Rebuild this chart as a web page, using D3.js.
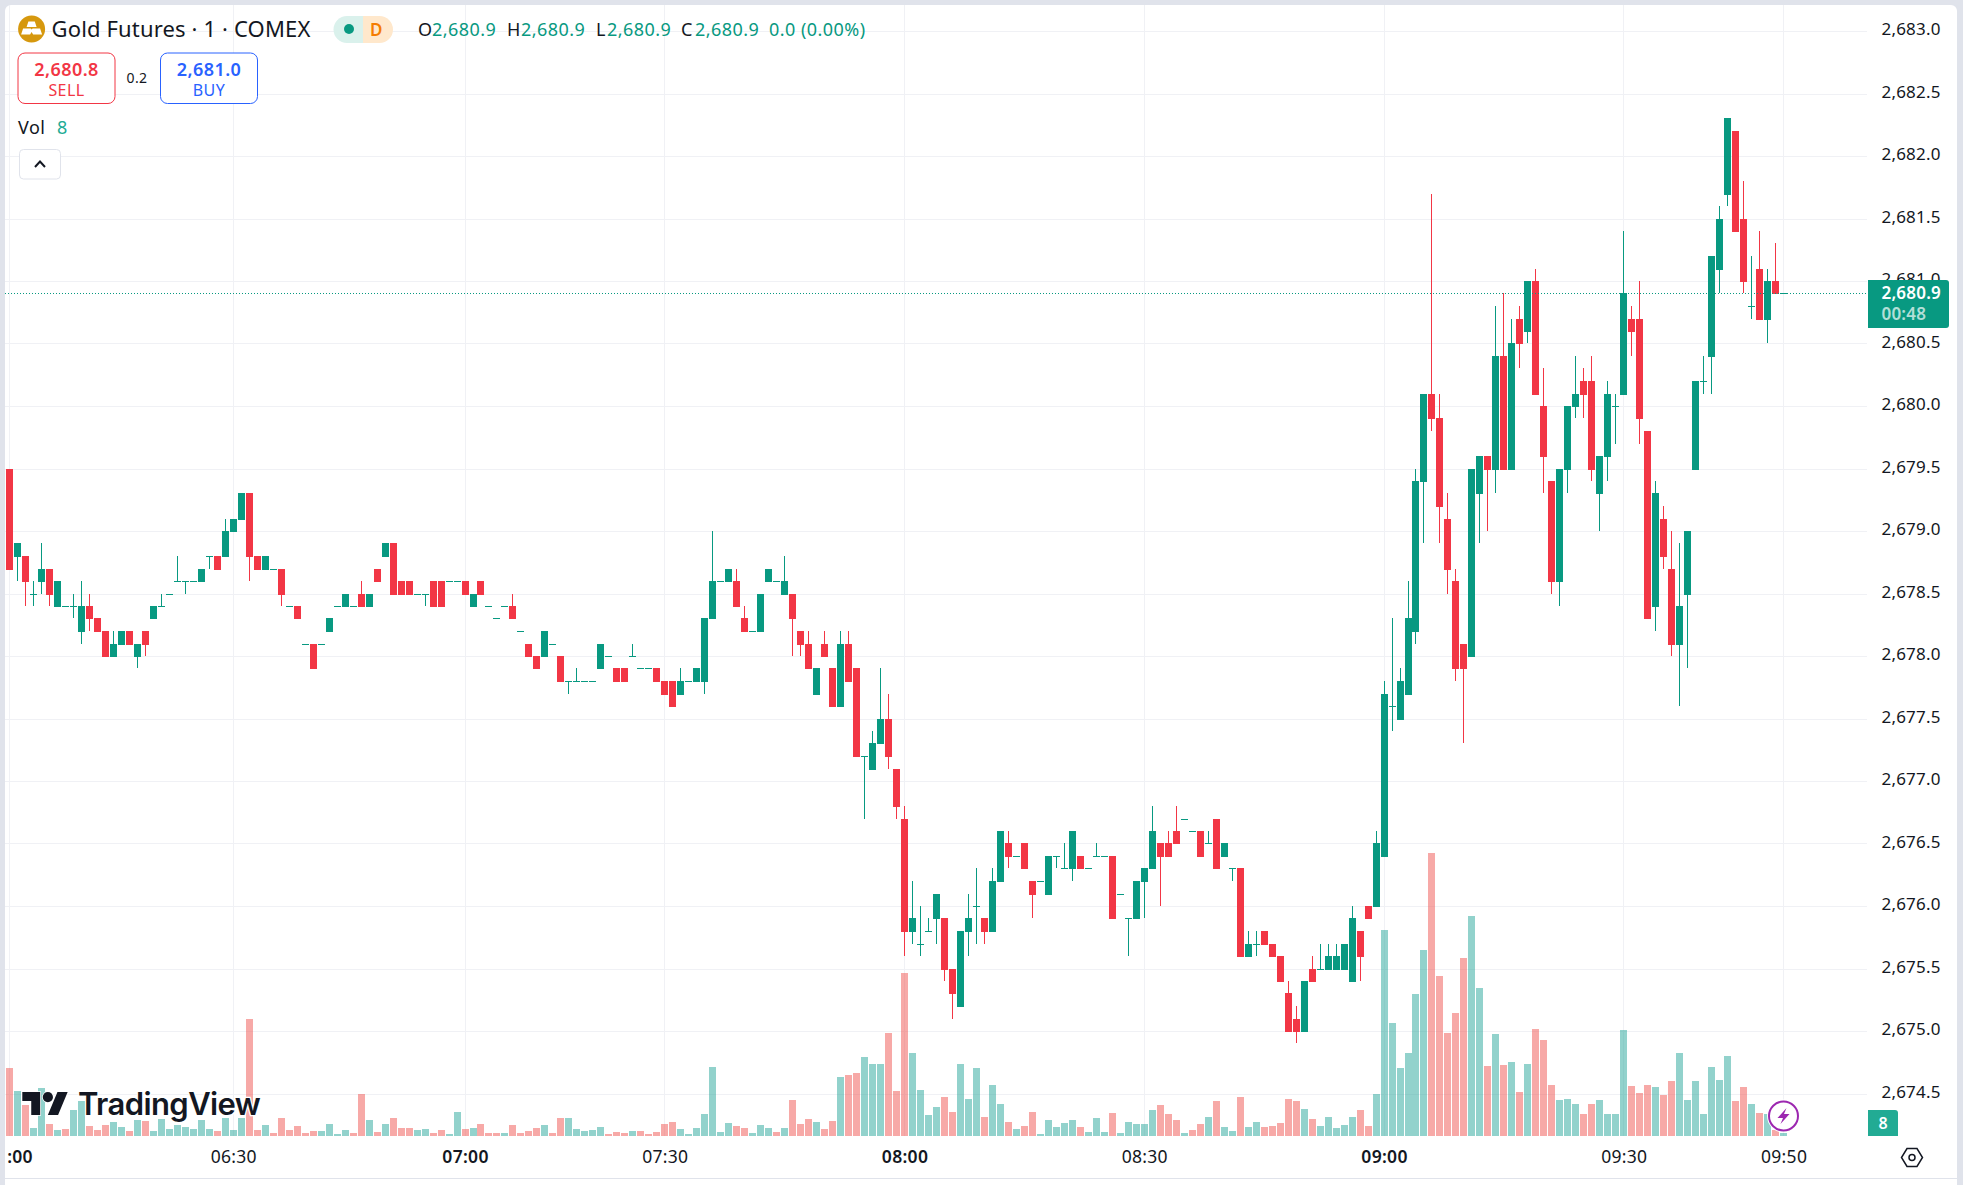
<!DOCTYPE html>
<html>
<head>
<meta charset="utf-8">
<script src="https://cdn.jsdelivr.net/npm/d3@7"></script>
<style>
    html, body { margin: 0; padding: 0; background: #e0e3eb; overflow: hidden; }
    svg { display: block; }
    text { font-family: "Noto Sans", sans-serif; fill: #131722; }
</style>
</head>
<body>
<svg id="chart" width="1963" height="1185"></svg>
<script>
// candles, one entry per bar (tick size 0.1)
var opens = [
    2679.5,2678.8,2678.8,2678.5,2678.6,2678.7,2678.4,2678.4,2678.4,2678.2,
    2678.4,2678.3,2678.2,2678.0,2678.1,2678.2,2678.0,2678.2,2678.3,2678.4,
    2678.5,2678.6,2678.6,2678.6,2678.6,2678.8,2678.8,2678.8,2679.0,2679.1,
    2679.3,2678.8,2678.7,2678.7,2678.7,2678.4,2678.4,2678.1,2678.1,2678.1,
    2678.2,2678.4,2678.4,2678.4,2678.5,2678.4,2678.7,2678.8,2678.9,2678.6,
    2678.6,2678.5,2678.5,2678.6,2678.6,2678.6,2678.6,2678.6,2678.4,2678.6,
    2678.4,2678.3,2678.4,2678.4,2678.2,2678.1,2678.0,2678.0,2678.1,2678.0,
    2677.8,2677.8,2677.8,2677.8,2677.9,2678.0,2677.9,2677.9,2678.0,2677.9,
    2677.9,2677.9,2677.8,2677.8,2677.7,2677.8,2677.8,2677.8,2678.3,2678.6,
    2678.6,2678.6,2678.3,2678.2,2678.2,2678.6,2678.6,2678.5,2678.5,2678.2,
    2678.1,2677.7,2678.1,2677.9,2677.6,2678.1,2677.9,2677.2,2677.1,2677.3,
    2677.5,2677.1,2676.7,2675.8,2675.7,2675.8,2675.9,2675.9,2675.5,2675.2,
    2675.8,2676.0,2675.9,2675.8,2676.2,2676.5,2676.4,2676.5,2676.2,2676.2,
    2676.1,2676.4,2676.3,2676.3,2676.4,2676.3,2676.4,2676.4,2676.4,2676.1,
    2675.9,2675.9,2676.2,2676.3,2676.5,2676.5,2676.6,2676.7,2676.6,2676.6,
    2676.5,2676.7,2676.4,2676.3,2676.3,2675.6,2675.7,2675.8,2675.7,2675.6,
    2675.3,2675.1,2675.0,2675.5,2675.5,2675.5,2675.5,2675.5,2675.4,2675.8,
    2676.0,2676.0,2676.4,2677.6,2677.5,2677.7,2678.2,2679.4,2680.1,2679.9,
    2679.1,2678.6,2678.1,2678.0,2679.3,2679.6,2679.5,2680.4,2679.5,2680.7,
    2680.6,2681.0,2680.0,2679.4,2678.6,2679.5,2680.0,2680.2,2680.2,2679.3,
    2679.6,2680.0,2680.1,2680.7,2680.7,2679.8,2678.4,2679.1,2678.7,2678.1,
    2678.5,2679.5,2680.2,2680.4,2681.1,2681.7,2682.2,2681.5,2680.8,2681.1,
    2680.7,2681.0,2680.9
];
var highs = [
    2679.5,2678.9,2678.8,2678.6,2678.9,2678.7,2678.6,2678.4,2678.5,2678.6,
    2678.5,2678.3,2678.2,2678.2,2678.2,2678.2,2678.1,2678.2,2678.4,2678.5,
    2678.5,2678.8,2678.6,2678.6,2678.7,2678.8,2678.8,2679.1,2679.1,2679.3,
    2679.3,2678.8,2678.8,2678.7,2678.7,2678.4,2678.4,2678.1,2678.1,2678.1,
    2678.3,2678.4,2678.5,2678.4,2678.6,2678.5,2678.7,2678.9,2678.9,2678.6,
    2678.6,2678.5,2678.5,2678.6,2678.6,2678.6,2678.6,2678.6,2678.5,2678.6,
    2678.4,2678.3,2678.4,2678.5,2678.2,2678.1,2678.0,2678.2,2678.1,2678.0,
    2677.8,2677.9,2677.8,2677.8,2678.1,2678.0,2677.9,2677.9,2678.1,2677.9,
    2677.9,2677.9,2677.8,2677.8,2677.9,2677.8,2677.9,2678.3,2679.0,2678.6,
    2678.7,2678.7,2678.4,2678.2,2678.5,2678.7,2678.6,2678.8,2678.5,2678.2,
    2678.2,2677.9,2678.2,2677.9,2678.2,2678.2,2677.9,2677.2,2677.4,2677.9,
    2677.7,2677.1,2676.8,2676.2,2676.0,2675.9,2676.1,2675.9,2675.5,2675.8,
    2676.1,2676.3,2675.9,2676.3,2676.6,2676.6,2676.4,2676.5,2676.2,2676.2,
    2676.4,2676.4,2676.5,2676.6,2676.4,2676.3,2676.5,2676.4,2676.4,2676.1,
    2675.9,2676.2,2676.3,2676.8,2676.5,2676.6,2676.8,2676.7,2676.6,2676.6,
    2676.6,2676.7,2676.5,2676.3,2676.3,2675.8,2675.8,2675.8,2675.7,2675.6,
    2675.4,2675.2,2675.4,2675.6,2675.7,2675.7,2675.7,2675.7,2676.0,2675.8,
    2676.0,2676.6,2677.8,2678.3,2677.9,2678.6,2679.5,2680.1,2681.7,2680.1,
    2679.3,2678.7,2678.1,2679.5,2679.6,2679.6,2680.8,2680.9,2680.7,2680.8,
    2681.0,2681.1,2680.3,2679.4,2679.5,2680.0,2680.4,2680.3,2680.4,2679.6,
    2680.2,2680.1,2681.4,2680.8,2681.0,2679.8,2679.4,2679.2,2679.0,2678.9,
    2679.0,2680.2,2680.4,2681.2,2681.6,2682.3,2682.2,2681.8,2681.2,2681.4,
    2681.1,2681.3,2680.9
];
var lows = [
    2678.7,2678.6,2678.4,2678.4,2678.5,2678.4,2678.4,2678.4,2678.3,2678.1,
    2678.2,2678.2,2678.0,2678.0,2678.1,2678.1,2677.9,2678.0,2678.3,2678.4,
    2678.5,2678.6,2678.5,2678.6,2678.6,2678.7,2678.7,2678.8,2679.0,2679.1,
    2678.6,2678.7,2678.7,2678.7,2678.4,2678.4,2678.3,2678.1,2677.9,2678.1,
    2678.2,2678.4,2678.4,2678.4,2678.4,2678.4,2678.6,2678.8,2678.5,2678.5,
    2678.5,2678.5,2678.4,2678.4,2678.4,2678.6,2678.6,2678.5,2678.4,2678.5,
    2678.4,2678.3,2678.4,2678.3,2678.2,2678.0,2677.9,2678.0,2678.1,2677.8,
    2677.7,2677.8,2677.8,2677.8,2677.9,2678.0,2677.8,2677.8,2678.0,2677.9,
    2677.9,2677.8,2677.7,2677.6,2677.7,2677.8,2677.8,2677.7,2678.3,2678.6,
    2678.6,2678.4,2678.2,2678.2,2678.2,2678.6,2678.6,2678.5,2678.0,2678.0,
    2677.9,2677.7,2678.0,2677.6,2677.6,2677.8,2677.2,2676.7,2677.1,2677.3,
    2677.1,2676.7,2675.6,2675.7,2675.6,2675.8,2675.7,2675.4,2675.1,2675.2,
    2675.6,2675.7,2675.7,2675.8,2676.2,2676.3,2676.4,2676.3,2675.9,2676.2,
    2676.1,2676.3,2676.3,2676.2,2676.3,2676.3,2676.4,2676.4,2675.9,2676.1,
    2675.6,2675.9,2675.9,2676.3,2676.0,2676.4,2676.5,2676.7,2676.6,2676.4,
    2676.5,2676.3,2676.4,2676.2,2675.6,2675.6,2675.6,2675.7,2675.6,2675.4,
    2675.0,2674.9,2675.0,2675.4,2675.5,2675.5,2675.5,2675.5,2675.4,2675.4,
    2675.9,2676.0,2676.4,2677.4,2677.5,2677.7,2678.1,2678.9,2679.8,2678.9,
    2678.5,2677.8,2677.3,2678.0,2678.9,2679.0,2679.3,2679.5,2679.5,2680.3,
    2680.5,2680.1,2679.3,2678.5,2678.4,2679.3,2679.9,2679.9,2679.4,2679.0,
    2679.4,2679.7,2680.1,2680.4,2679.7,2678.3,2678.2,2678.7,2678.0,2677.6,
    2677.9,2679.5,2680.1,2680.1,2680.9,2681.6,2681.4,2680.9,2680.7,2680.7,
    2680.5,2680.9,2680.9
];
var closes = [
    2678.7,2678.9,2678.6,2678.5,2678.7,2678.5,2678.6,2678.4,2678.4,2678.4,
    2678.3,2678.2,2678.0,2678.1,2678.2,2678.1,2678.1,2678.1,2678.4,2678.4,
    2678.5,2678.6,2678.6,2678.6,2678.7,2678.8,2678.7,2679.0,2679.1,2679.3,
    2678.8,2678.7,2678.8,2678.7,2678.5,2678.4,2678.3,2678.1,2677.9,2678.1,
    2678.3,2678.4,2678.5,2678.4,2678.4,2678.5,2678.6,2678.9,2678.5,2678.5,
    2678.5,2678.5,2678.5,2678.4,2678.4,2678.6,2678.6,2678.5,2678.5,2678.5,
    2678.4,2678.3,2678.4,2678.3,2678.2,2678.0,2677.9,2678.2,2678.1,2677.8,
    2677.8,2677.8,2677.8,2677.8,2678.1,2678.0,2677.8,2677.8,2678.0,2677.9,
    2677.9,2677.8,2677.7,2677.6,2677.8,2677.8,2677.9,2678.3,2678.6,2678.6,
    2678.7,2678.4,2678.2,2678.2,2678.5,2678.7,2678.6,2678.6,2678.3,2678.1,
    2677.9,2677.9,2678.0,2677.6,2678.1,2677.8,2677.2,2677.2,2677.3,2677.5,
    2677.2,2676.8,2675.8,2675.9,2675.7,2675.8,2676.1,2675.5,2675.3,2675.8,
    2675.9,2676.0,2675.8,2676.2,2676.6,2676.4,2676.4,2676.3,2676.1,2676.2,
    2676.4,2676.4,2676.3,2676.6,2676.3,2676.3,2676.4,2676.4,2675.9,2676.1,
    2675.9,2676.2,2676.3,2676.6,2676.4,2676.4,2676.5,2676.7,2676.6,2676.4,
    2676.5,2676.3,2676.5,2676.3,2675.6,2675.7,2675.7,2675.7,2675.6,2675.4,
    2675.0,2675.0,2675.4,2675.4,2675.5,2675.6,2675.6,2675.7,2675.9,2675.6,
    2675.9,2676.5,2677.7,2677.6,2677.8,2678.3,2679.4,2680.1,2679.9,2679.2,
    2678.7,2677.9,2677.9,2679.5,2679.6,2679.5,2680.4,2679.5,2680.5,2680.5,
    2681.0,2680.1,2679.6,2678.6,2679.5,2680.0,2680.1,2680.1,2679.5,2679.6,
    2680.1,2680.0,2680.9,2680.6,2679.9,2678.3,2679.3,2678.8,2678.1,2678.4,
    2679.0,2680.2,2680.2,2681.2,2681.5,2682.3,2681.4,2681.0,2680.8,2680.7,
    2681.0,2680.9,2680.9
];
var volumes = [
    203,134,94,23,143,35,17,20,77,104,
    29,17,32,41,26,14,47,44,14,50,
    20,32,26,20,47,20,14,53,17,53,
    350,17,32,8,53,17,29,8,14,14,
    35,5,17,8,125,47,11,35,53,23,
    23,17,20,8,17,5,71,20,23,35,
    8,8,8,32,8,14,23,32,8,53,
    53,20,14,17,26,5,11,8,14,14,
    5,11,35,41,20,5,23,65,206,11,
    38,29,23,8,32,23,11,23,107,35,
    50,41,20,44,176,182,188,236,215,215,
    308,134,488,248,137,62,86,116,71,215,
    110,203,56,152,95,41,20,29,71,5,
    47,26,38,47,26,11,53,11,68,8,
    41,35,35,77,92,65,47,8,17,35,
    56,104,26,14,116,26,41,26,29,38,
    110,104,80,50,29,56,23,32,57,78,
    30,126,618,339,204,249,426,558,849,480,
    309,369,534,660,444,210,306,213,222,132,
    216,321,288,153,108,111,96,66,96,108,
    66,66,318,150,129,153,147,123,165,249,
    108,165,66,207,168,240,105,147,96,69,
    66,18,8
];
// 1 = teal volume bar, 0 = pink volume bar (dojis differ from the candle colour)
var volumeUp = [
    0,1,0,1,1,0,1,0,1,1,
    0,0,0,1,1,0,1,0,1,1,
    1,1,1,1,1,1,0,1,1,1,
    0,0,1,0,0,0,0,0,0,1,
    1,1,1,0,0,1,0,1,0,0,
    0,1,1,0,0,1,1,0,1,0,
    0,0,1,0,0,0,0,1,0,0,
    1,1,1,1,1,0,0,0,1,0,
    0,0,0,0,1,1,1,1,1,1,
    1,0,0,1,1,1,0,1,0,0,
    0,1,0,0,1,0,0,1,1,1,
    0,0,0,1,1,1,1,0,0,1,
    1,1,0,1,1,0,1,0,0,1,
    1,1,1,1,0,1,1,1,0,1,
    1,1,1,1,0,0,0,1,0,0,
    1,0,1,1,0,1,1,0,0,0,
    0,0,1,0,1,1,1,1,1,0,
    0,1,1,1,1,1,1,1,0,0,
    0,0,0,1,1,0,1,0,1,0,
    1,0,0,0,1,1,1,0,0,1,
    1,1,1,0,0,0,1,0,0,1,
    1,1,1,1,1,1,0,0,1,0,
    1,0,1
];
var priceTicks = [2683,2682.5,2682,2681.5,2681,2680.5,2680,2679.5,2679,2678.5,2678,2677.5,2677,2676.5,2676,2675.5,2675,2674.5];
var timeTickBars = [0,28,57,82,112,142,172,202,222];
// the first label is cut by the pane edge in the picture, only ":00" shows
var timeTickLabels = [":00","06:30","07:00","07:30","08:00","08:30","09:00","09:30","09:50"];
var boldTimeTicks = [":00","07:00","08:00","09:00"];
var lastPrice = 2680.9;
var lastVolume = 8;

var upColor = "#089981";
var downColor = "#F23645";
var volUpColor = "rgba(38,166,154,0.5)";
var volDownColor = "rgba(239,83,80,0.5)";
var gridColor = "#f0f1f5";
var borderColor = "#e0e3eb";

var pane = { left: 5, top: 5, right: 1957, plotRight: 1867, volBase: 1136, axisLine: 1178 };

var xScale = d3.scaleLinear().domain([0, volumes.length - 1]).range([9.5, 1783.6]);
var yScale = d3.scaleLinear().domain([2674.5, 2683]).range([1093.5, 31]);
var volScale = d3.scaleLinear().domain([0, 900]).range([pane.volBase, pane.volBase - 300]);

var svg = d3.select("#chart");

function drawBase() {
    svg.append("rect")
        .attr("x", pane.left).attr("y", pane.top)
        .attr("width", pane.right - pane.left).attr("height", 1190)
        .attr("rx", 6)
        .attr("fill", "#fff");
    svg.append("rect")
        .attr("x", pane.left).attr("y", pane.axisLine)
        .attr("width", pane.right - pane.left).attr("height", 1)
        .attr("fill", borderColor);

    var grid = svg.append("g").attr("shape-rendering", "crispEdges");
    grid.selectAll(".h").data(priceTicks).enter().append("line")
        .attr("x1", pane.left).attr("x2", pane.plotRight)
        .attr("y1", function(d) { return Math.round(yScale(d)) + 0.5; })
        .attr("y2", function(d) { return Math.round(yScale(d)) + 0.5; })
        .attr("stroke", gridColor);
    grid.selectAll(".v").data(timeTickBars).enter().append("line")
        .attr("x1", function(d) { return barLeft(d) + 3.5; })
        .attr("x2", function(d) { return barLeft(d) + 3.5; })
        .attr("y1", pane.top).attr("y2", pane.volBase)
        .attr("stroke", gridColor);
}

function barLeft(i) {
    return Math.round(xScale(i) - 3.5);
}

function drawVolumes() {
    svg.append("g").attr("shape-rendering", "crispEdges")
        .selectAll("rect").data(volumes).enter().append("rect")
        .attr("x", function(d, i) { return barLeft(i); })
        .attr("width", 7)
        .attr("y", function(d) { return volScale(d); })
        .attr("height", function(d) { return pane.volBase - volScale(d); })
        .attr("fill", function(d, i) { return volumeUp[i] ? volUpColor : volDownColor; });
}

function drawWatermark() {
    // logo shape from the TradingView mark, placed by eye
    var logo = svg.append("g").attr("transform", "translate(22.3,1086.9) scale(1.278)");
    logo.append("path")
        .attr("d", "M14 22H7V11H0V4h14v18zM28 22h-8l7.5-18h8L28 22z")
        .attr("fill", "#131722").attr("stroke", "#fff").attr("stroke-width", 1.2).attr("paint-order", "stroke");
    logo.append("circle").attr("cx", 20).attr("cy", 8).attr("r", 4)
        .attr("fill", "#131722").attr("stroke", "#fff").attr("stroke-width", 1.2).attr("paint-order", "stroke");
    svg.append("text")
        .attr("x", 78).attr("y", 1115)
        .style("font-family", "Inter")
        .style("font-weight", 600)
        .style("font-size", "31px")
        .style("letter-spacing", "-0.6px")
        .style("stroke", "#fff").style("stroke-width", "2.5px").style("paint-order", "stroke")
        .text("TradingView");
}

function drawCandles() {
    var candle = svg.append("g").attr("shape-rendering", "crispEdges")
        .selectAll("g").data(opens).enter().append("g")
        .attr("fill", function(d, i) { return closes[i] < opens[i] ? downColor : upColor; });
    candle.append("rect")
        .attr("x", function(d, i) { return barLeft(i) + 3; })
        .attr("width", 1)
        .attr("y", function(d, i) { return Math.round(yScale(highs[i])); })
        .attr("height", function(d, i) { return Math.round(yScale(lows[i])) - Math.round(yScale(highs[i])); });
    candle.append("rect")
        .attr("x", function(d, i) { return barLeft(i); })
        .attr("width", 7)
        .attr("y", function(d, i) { return Math.round(yScale(Math.max(opens[i], closes[i]))); })
        .attr("height", function(d, i) {
            return Math.round(yScale(Math.min(opens[i], closes[i]))) - Math.round(yScale(Math.max(opens[i], closes[i]))) + 1;
        });
}

function drawAxes() {
    var yAxis = d3.axisRight(yScale)
        .tickValues(priceTicks)
        .tickFormat(d3.format(",.1f"))
        .tickSize(0)
        .tickPadding(0);
    var yG = svg.append("g")
        .attr("transform", "translate(1881.5,-1.5)")
        .call(yAxis)
        .call(function(g) { g.select(".domain").remove(); });
    yG.selectAll("text")
        .attr("fill", "#131722")
        .style("font-family", "'Noto Sans'")
        .style("font-size", "17px")
        .style("letter-spacing", "0.2px");

    var xAxis = d3.axisBottom(xScale)
        .tickValues(timeTickBars)
        .tickFormat(function(d, i) { return timeTickLabels[i]; })
        .tickSize(0)
        .tickPadding(0);
    var xG = svg.append("g")
        .attr("transform", "translate(0,1151)")
        .call(xAxis)
        .call(function(g) { g.select(".domain").remove(); });
    xG.selectAll("text")
        .attr("fill", "#131722")
        .attr("dx", function(d, i) { return i === 0 ? 10 : 0; })
        .style("font-family", "'Noto Sans'")
        .style("font-size", "17.5px")
        .style("letter-spacing", "0.3px")
        .style("font-weight", function(d, i) {
            return boldTimeTicks.indexOf(timeTickLabels[i]) >= 0 ? 600 : 400;
        });
}

function drawLastPrice() {
    var y = Math.round(yScale(lastPrice)) + 0.5;
    svg.append("line")
        .attr("x1", pane.left).attr("x2", pane.plotRight)
        .attr("y1", y).attr("y2", y)
        .attr("stroke", upColor).attr("stroke-dasharray", "1,2");
    svg.append("path")
        .attr("d", "M1868 280H1946a3 3 0 0 1 3 3V325a3 3 0 0 1 -3 3H1868Z")
        .attr("fill", upColor);
    svg.append("text").attr("x", 1881.5).attr("y", y + 5.5)
        .style("fill", "#fff").style("font-size", "17px").style("letter-spacing", "0.2px").style("font-weight", 600)
        .text(d3.format(",.1f")(lastPrice));
    svg.append("text").attr("x", 1881.5).attr("y", 319.5)
        .style("fill", "#fff").style("fill-opacity", 0.7).style("font-size", "17px").style("letter-spacing", "0.2px").style("font-weight", 600)
        .text("00:48");

    svg.append("path")
        .attr("d", "M1868 1110H1895a3 3 0 0 1 3 3V1136H1868Z")
        .attr("fill", "#22ab94");
    svg.append("text").attr("x", 1883).attr("y", 1129).attr("text-anchor", "middle")
        .style("fill", "#fff").style("font-size", "16px").style("font-weight", 600)
        .text(lastVolume);
}

function legendText(x, y, str, color, size, weight, anchor) {
    return svg.append("text")
        .attr("x", x).attr("y", y)
        .attr("text-anchor", anchor || "start")
        .style("fill", color)
        .style("font-size", (size || 18) + "px")
        .style("letter-spacing", "0.45px")
        .style("font-weight", weight || 400)
        .text(str);
}

function drawLegend() {
    // symbol icon
    var icon = svg.append("g").attr("transform", "translate(31.6,29)");
    icon.append("circle").attr("r", 13.5).attr("fill", "#d6980e");
    icon.append("path")
        .attr("d", "M-3.2 -7.5H3.2L5 -2H-5ZM-8.5 -0.5H-1L0 0.5L1 -0.5H8.5L10.5 5.5H1.5L0 3L-1.5 5.5H-10.5Z")
        .attr("fill", "#fff");

    legendText(51.5, 37, "Gold Futures · 1 · COMEX", "#131722", 22).style("letter-spacing", "0.15px");

    // market status pill
    svg.append("path").attr("d", "M363 16H347a13.5 13.5 0 0 0 0 27H363Z").attr("fill", "#daf1ec");
    svg.append("path").attr("d", "M363 16H379.5a13.5 13.5 0 0 1 0 27H363Z").attr("fill", "#ffe8cc");
    svg.append("circle").attr("cx", 349).attr("cy", 29).attr("r", 5).attr("fill", upColor);
    legendText(376.5, 35.5, "D", "#f57c00", 17, 600, "middle");

    var ohlcLabels = ["O", "H", "L", "C"];
    var labelX = [418, 507, 596, 681];
    var valueX = [432, 521, 607, 695];
    ohlcLabels.forEach(function(label, i) {
        legendText(labelX[i], 36, label, "#131722");
        legendText(valueX[i], 36, d3.format(",.1f")(lastPrice), upColor);
    });
    legendText(769, 36, "0.0 (0.00%)", upColor);

    // sell / buy buttons
    svg.append("rect").attr("x", 18).attr("y", 53).attr("width", 97).attr("height", 50.5).attr("rx", 7)
        .attr("fill", "#fff").attr("stroke", downColor);
    legendText(66.5, 76, "2,680.8", downColor, 18, 600, "middle");
    legendText(66.5, 96, "SELL", downColor, 16, 400, "middle");
    legendText(137, 83, "0.2", "#131722", 14, 400, "middle");
    svg.append("rect").attr("x", 160.5).attr("y", 53).attr("width", 97).attr("height", 50.5).attr("rx", 7)
        .attr("fill", "#fff").attr("stroke", "#2962ff");
    legendText(209, 76, "2,681.0", "#2962ff", 18, 600, "middle");
    legendText(209, 96, "BUY", "#2962ff", 16, 400, "middle");

    legendText(18, 134, "Vol", "#131722");
    legendText(57, 134, lastVolume, "#22ab94");

    // collapse button
    svg.append("rect").attr("x", 19.5).attr("y", 149.5).attr("width", 41).attr("height", 29.5).attr("rx", 4)
        .attr("fill", "#fff").attr("stroke", borderColor);
    svg.append("path").attr("d", "M35 167L40 161.5L45 167")
        .attr("fill", "none").attr("stroke", "#131722").attr("stroke-width", 2);
}

function drawIcons() {
    // lightning badge on the last bar
    var bolt = svg.append("g").attr("transform", "translate(1783.5,1116)");
    bolt.append("circle").attr("r", 16.5).attr("fill", "#fff");
    bolt.append("circle").attr("r", 14.5).attr("fill", "#fff").attr("stroke", "#9c27b0").attr("stroke-width", 2);
    bolt.append("path").attr("d", "M3 -8L-6 2H-0.5L-3 8L6 -2H0.5Z").attr("fill", "#9c27b0");

    // settings hexagon in the corner
    var gear = svg.append("g").attr("transform", "translate(1912,1157.5)")
        .attr("fill", "none").attr("stroke", "#131722").attr("stroke-width", 1.5);
    gear.append("path").attr("d", "M-5 -9H5L10.5 0L5 9H-5L-10.5 0Z");
    gear.append("circle").attr("r", 3);
}

drawBase();
drawVolumes();
drawWatermark();
drawCandles();
drawAxes();
drawLastPrice();
drawLegend();
drawIcons();
</script>
</body>
</html>
